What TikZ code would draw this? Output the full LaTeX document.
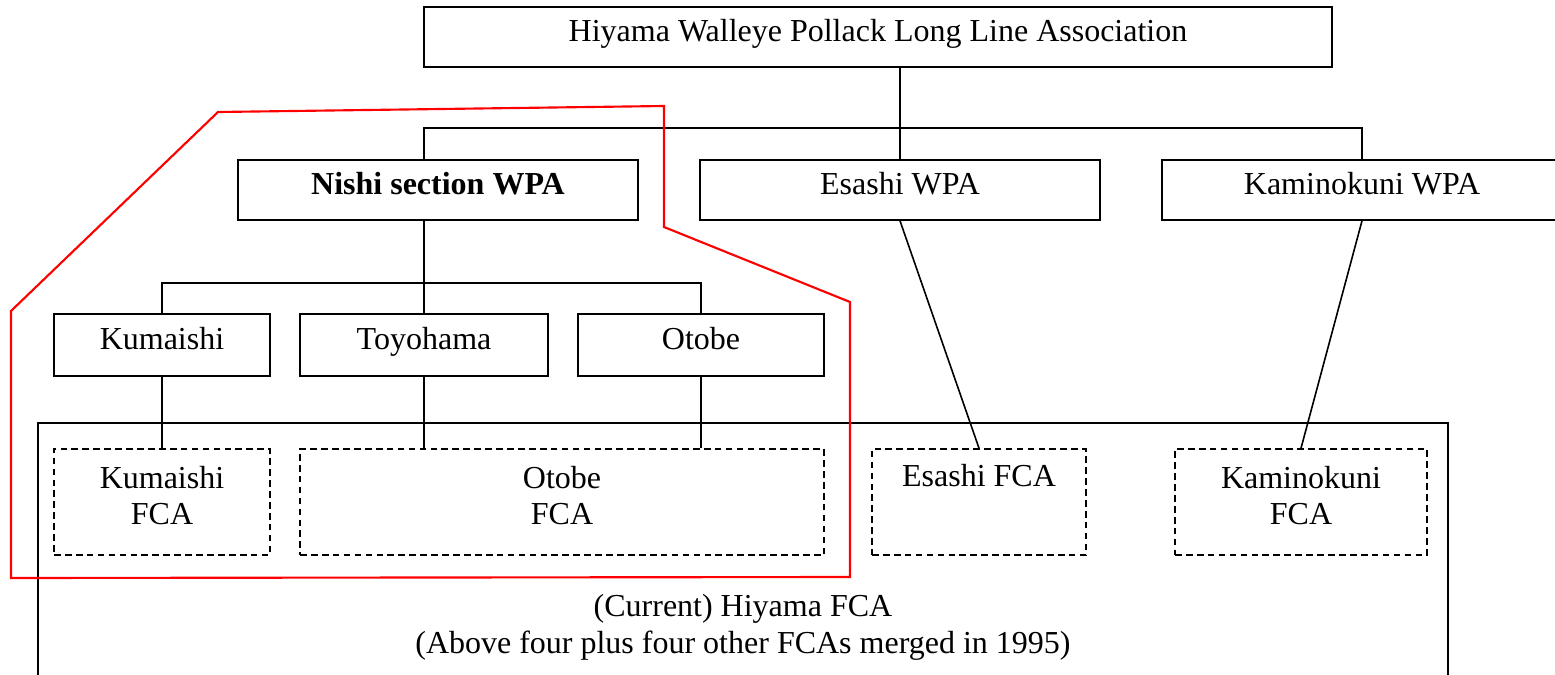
\documentclass[tikz,border=0pt]{standalone}
\usepackage{fontspec}
\setmainfont{Liberation Serif}
\begin{document}
\begin{tikzpicture}[x=0.375pt,y=-0.375pt,line width=0.6pt,
    font=\fontsize{12pt}{13.8pt}\selectfont,
    orgbox/.style={draw, inner sep=0pt, minimum height=22.5pt, text height=9pt, text depth=6pt},
    fcabox/.style={draw, dashed, dash pattern=on 2.5pt off 1.6pt, inner sep=0pt, minimum height=39.75pt, align=center, text depth=5pt}]
        \clip (0,0) rectangle (1555,675);
        % merged FCA (runs off the page)
        \node[draw, inner sep=0pt, minimum width=528.75pt, minimum height=153pt, align=center] (hiyamafca) at (743,627) {(Current) Hiyama FCA\\(Above four plus four other FCAs merged in 1995)};
        \node[orgbox, minimum width=340.5pt] (assoc) at (878,37) {Hiyama Walleye Pollack Long Line Association};
        \node[orgbox, minimum width=150pt] (nishi) at (438,190) {\textbf{Nishi section WPA}};
        \node[orgbox, minimum width=150pt] (esashi) at (900,190) {Esashi WPA};
        \node[orgbox, minimum width=150pt] (kami) at (1362,190) {Kaminokuni WPA};
        \node[orgbox, minimum width=81pt, minimum height=23.25pt] (kuma) at (162,345) {Kumaishi};
        \node[orgbox, minimum width=93pt, minimum height=23.25pt] (toyo) at (424,345) {Toyohama};
        \node[orgbox, minimum width=92.25pt, minimum height=23.25pt] (otobe) at (701,345) {Otobe};
        \node[fcabox, minimum width=81pt] (kumafca) at (162,502) {Kumaishi\\FCA};
        \node[fcabox, minimum width=196.5pt] (otobefca) at (562,502) {Otobe\\FCA};
        \node[fcabox, minimum width=80.25pt, text height=9pt, text depth=21pt] (esashifca) at (979,502) {Esashi FCA};
        \node[fcabox, minimum width=94.5pt] (kamifca) at (1301,502) {Kaminokuni\\FCA};
        % tree
        \draw (esashi.north |- assoc.south) -- (esashi.north);
        \draw (nishi.north -| toyo.north) -- ++(0,-31) -| (kami.north);
        \draw (nishi.south -| toyo.north) -- (toyo.north);
        \draw (kuma.north) -- ++(0,-30) -| (otobe.north);
        \draw (kuma.south) -- (kumafca.north);
        \draw (toyo.south) -- (toyo.south |- otobefca.north);
        \draw (otobe.south) -- (otobe.south |- otobefca.north);
        \draw (esashi.south) -- (esashifca.north);
        \draw (kami.south) -- (kamifca.north);
        % Nishi section outline
        \draw[red, line width=0.8pt] (11,311) -- (218,112) -- (664,106) -- (664,227) -- (850,302) -- (850,577) -- (11,578) -- cycle;
\end{tikzpicture}
\end{document}
